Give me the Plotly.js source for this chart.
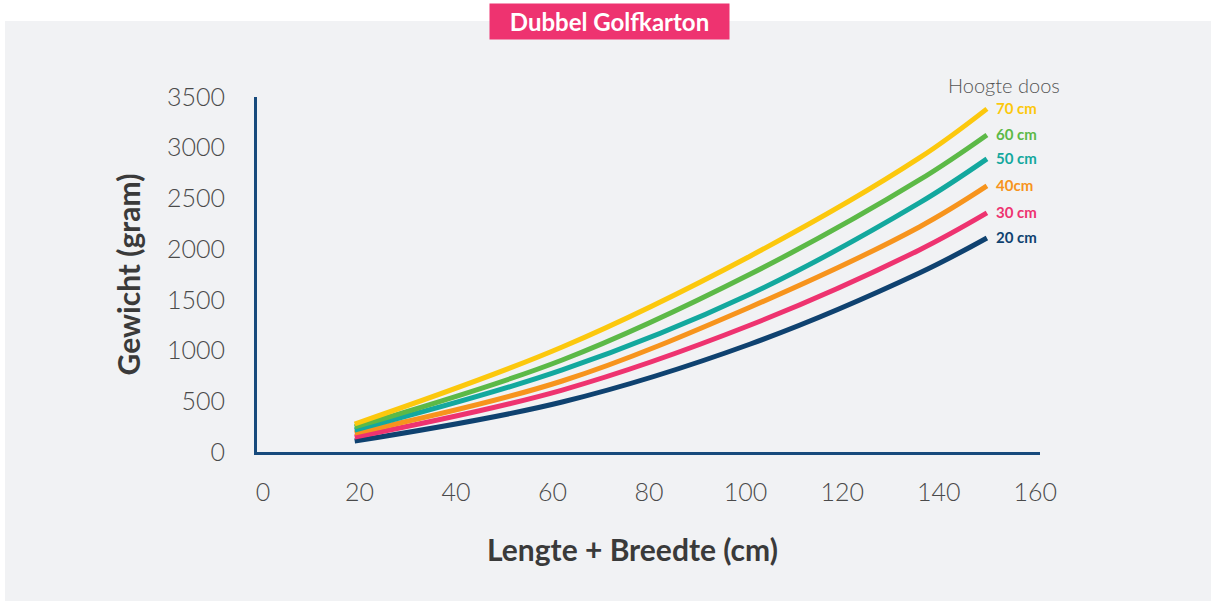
<!DOCTYPE html>
<html>
<head>
<meta charset="utf-8">
<script src="https://cdn.plot.ly/plotly-3.0.1.min.js"></script>
<style>html,body{margin:0;padding:0;background:#fff;}#chart{width:1211px;height:601px;}</style>
</head>
<body>
<div id="chart"></div>
<script>
// Data
const lengthPlusWidth = [19, 62, 101, 136, 150];
const seriesNames = ["20 cm", "30 cm", "40cm", "50 cm", "60 cm", "70 cm"];
const h20 = [108, 493, 1065, 1765, 2110];
const h30 = [148, 611, 1252, 1992, 2357];
const h40 = [187, 700, 1430, 2219, 2623];
const h50 = [217, 809, 1558, 2456, 2890];
const h60 = [247, 907, 1755, 2682, 3126];
const h70 = [276, 1035, 1933, 2899, 3383];
const seriesValues = [h20, h30, h40, h50, h60, h70];
const seriesColors = ["#0f4270", "#ee3370", "#f7941d", "#13a89e", "#5cb947", "#fcc80d"];
const xTicks = [0, 20, 40, 60, 80, 100, 120, 140, 160];
const yTicks = [0, 500, 1000, 1500, 2000, 2500, 3000, 3500];

const FONT = "Lato, 'Open Sans', sans-serif";

const traces = seriesValues.map((vals, i) => ({
  x: lengthPlusWidth,
  y: vals,
  type: "scatter",
  mode: "lines",
  name: seriesNames[i],
  line: {color: seriesColors[i], width: 5, shape: "spline", smoothing: 1},
  hoverinfo: "x+y+name"
}));

const annotations = seriesValues.map((vals, i) => ({
  x: lengthPlusWidth[lengthPlusWidth.length - 1],
  y: vals[vals.length - 1],
  xref: "x", yref: "y",
  text: "<b>" + seriesNames[i] + "</b>",
  showarrow: false,
  xanchor: "left", yanchor: "middle",
  xshift: 7, yshift: 1,
  font: {family: FONT, size: 15, color: seriesColors[i]}
}));

annotations.push({
  x: 0.954, y: 1.034, xref: "paper", yref: "paper",
  text: "Hoogte doos", showarrow: false,
  xanchor: "center", yanchor: "middle",
  font: {family: FONT, size: 20, color: "#555555", weight: 300}
});

annotations.push({
  x: 0.4502, y: 1.2127, xref: "paper", yref: "paper",
  text: "<b>Dubbel Golfkarton</b>", showarrow: false,
  xanchor: "center", yanchor: "middle",
  bgcolor: "#ee3370", borderpad: 2, width: 235, height: 31,
  font: {family: FONT, size: 24, color: "#ffffff"}
});

annotations.push({
  x: 0.479, y: -0.273, xref: "paper", yref: "paper",
  text: "<b>Lengte + Breedte (cm)</b>", showarrow: false,
  xanchor: "center", yanchor: "middle",
  font: {family: FONT, size: 30, color: "#3a3a3a"}
});

const layout = {
  width: 1211, height: 601,
  margin: {l: 257, r: 171, t: 97, b: 149},
  paper_bgcolor: "#ffffff",
  plot_bgcolor: "rgba(0,0,0,0)",
  showlegend: false,
  shapes: [{
    type: "rect", xref: "paper", yref: "paper", layer: "below",
    x0: -0.3218, x1: 1.2184, y0: -0.4197, y1: 1.2141,
    fillcolor: "#f1f2f4", line: {width: 0}
  }],
  xaxis: {
    range: [-1.24, 161.0],
    tickvals: xTicks,
    ticktext: xTicks.map(String),
    showgrid: false, zeroline: false,
    showline: true, linecolor: "#174a7c", linewidth: 3,
    ticks: "outside", ticklen: 16, tickcolor: "rgba(0,0,0,0)",
    tickfont: {family: FONT, size: 25, color: "#4a4a4a", weight: 300}
  },
  yaxis: {
    range: [0, 3500],
    tickvals: yTicks,
    ticktext: yTicks.map(String),
    showgrid: false, zeroline: false,
    showline: true, linecolor: "#174a7c", linewidth: 3,
    ticks: "outside", ticklen: 24, tickcolor: "rgba(0,0,0,0)",
    tickfont: {family: FONT, size: 25, color: "#4a4a4a", weight: 300},
    title: {text: "<b>Gewicht (gram)</b>", standoff: 18,
            font: {family: FONT, size: 30, color: "#3a3a3a"}}
  },
  annotations: annotations
};

Plotly.newPlot("chart", traces, layout, {displayModeBar: false, staticPlot: true});
</script>
</body>
</html>
